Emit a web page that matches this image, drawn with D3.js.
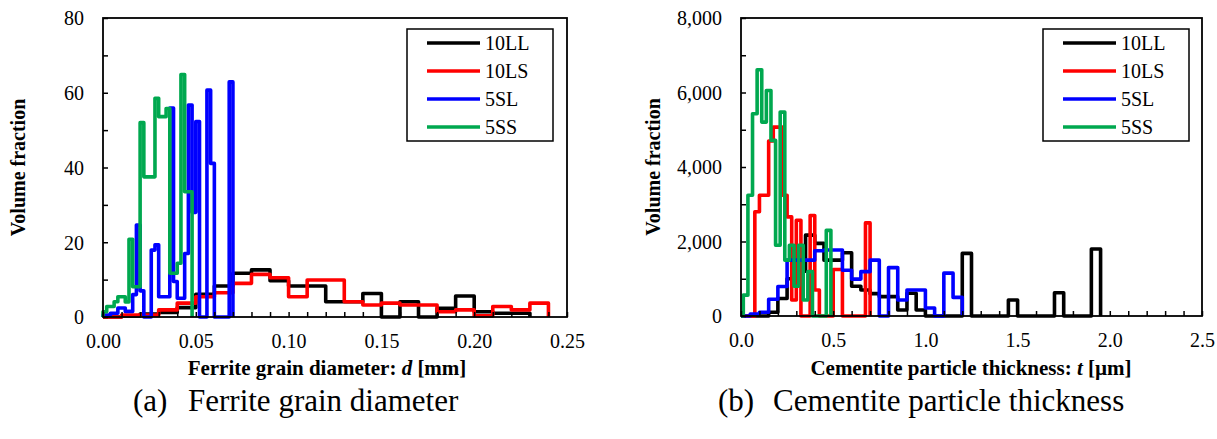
<!DOCTYPE html>
<html>
<head>
<meta charset="utf-8">
<script src="https://cdn.jsdelivr.net/npm/d3@7"></script>
<style>
  body { margin: 0; background: #fff; }
  svg, svg text { font-family: "Liberation Serif", "Times New Roman", Times, serif !important; }
</style>
</head>
<body>
<svg id="fig" width="1217" height="439"></svg>
<script>
// Series shared by both panels
const seriesNames  = ["10LL", "10LS", "5SL", "5SS"];
const seriesColors = ["#000000", "#ff0000", "#0000ff", "#00a84f"];

// (a) Ferrite grain diameter d [mm] — histogram heights per bin
const ferriteStart = [0, 0, 0, 0];
const ferriteWidth = [0.01, 0.01, 0.002, 0.002];
const ferrite10LL = [0, 0.3, 0.8, 1.2, 2.5, 6.1, 8.3, 11.7, 12.6, 9.7, 8.3, 8.3, 4.1, 4.1, 6.3, 0, 4.1, 0, 2.3, 5.6, 1.4, 1.0, 1.0];
const ferrite10LS = [0, 0.5, 0.5, 1.9, 3.7, 5.4, 6.5, 9.0, 11.4, 10.5, 5.4, 9.9, 9.9, 4.1, 3.2, 3.7, 3.2, 3.2, 1.4, 1.9, 0.3, 2.8, 1.9, 3.7];
const ferrite5SL  = [0.5, 0.5, 1, 1, 2.4, 2.4, 1.5, 1.5, 6, 24.6, 7, 0, 0, 17.9, 19.3, 5.4, 5.4, 5.4, 55.9, 9.5, 5, 5, 17, 56.7, 28, 52.3, 0, 0, 60.7, 41.1, 0, 0, 0, 0, 62.9];
const ferrite5SS  = [1.4, 2.8, 2.8, 4.1, 5.4, 5.4, 4.0, 20.8, 8.1, 8.1, 52.0, 37.5, 37.5, 37.5, 58.5, 53.6, 53.6, 55.8, 11.7, 11.7, 14.4, 64.9, 33.5, 33.5];

// (b) Cementite particle thickness t [µm] — histogram heights per bin
const cementiteStart = [0, 0, 0, 0.0125];
const cementiteWidth = [0.05, 0.025, 0.05, 0.025];
const cementite10LL = [0, 0, 0, 100, 470, 1000, 1200, 2170, 1950, 1500, 1500, 1700, 800, 700, 600, 520, 520, 160, 610, 160, 0, 0, 0, 0, 1680, 0, 0, 0, 0, 430, 0, 0, 0, 0, 626, 0, 0, 0, 1800];
const cementite10LS = [0, 0, 0, 2800, 3240, 3240, 4700, 5070, 5070, 3240, 2660, 430, 2570, 0, 0, 2700, 700, 0, 0, 0, 1250, 1250, 0, 0, 0, 0, 0, 2500];
const cementite5SL  = [0, 50, 100, 450, 790, 1500, 1500, 1500, 1750, 1770, 1770, 1230, 990, 1190, 1500, 0, 1300, 430, 700, 700, 215, 0, 1150, 500];
const cementite5SS  = [560, 3240, 5430, 6610, 5206, 6055, 4715, 1900, 5474, 1500, 1900, 800, 1900, 430, 1190, 0, 0, 0, 2300];

// Axis ticks
const ferriteXMajor = [0, 0.05, 0.10, 0.15, 0.20, 0.25];
const ferriteYMajor = [0, 20, 40, 60, 80];
const cementiteXMajor = [0, 0.5, 1.0, 1.5, 2.0, 2.5];
const cementiteYMajor = [0, 2000, 4000, 6000, 8000];

const FONT = "'Liberation Serif', 'Times New Roman', Times, serif";
const svg = d3.select("#fig").style("font-family", FONT);

function stepPoints(start, width, values) {
  const pts = [[0, 0], [start, 0]];
  values.forEach((v, i) => pts.push([start + i * width, v]));
  const end = start + values.length * width;
  pts.push([end, values[values.length - 1]]);
  pts.push([end, 0]);
  return pts;
}

function panel(cfg) {
  const g = svg.append("g");
  const x = d3.scaleLinear().domain(cfg.xDomain).range([cfg.left, cfg.right]);
  const y = d3.scaleLinear().domain(cfg.yDomain).range([cfg.bottom, cfg.top]);

  // histogram outlines
  const line = d3.line().x(d => x(d[0])).y(d => y(d[1])).curve(d3.curveStepAfter);
  cfg.series.forEach((vals, i) => {
    g.append("path")
      .attr("d", line(stepPoints(cfg.starts[i], cfg.widths[i], vals)))
      .attr("fill", "none")
      .attr("stroke", seriesColors[i])
      .attr("stroke-width", 3.6)
      .attr("stroke-linejoin", "round")
      .attr("stroke-linecap", "butt");
  });

  // bottom axis with inward minor ticks
  const xMinor = d3.range(0, cfg.xTickCount + 1).map(i => cfg.xDomain[0] + i * cfg.xMinorStep);
  const xAxis = d3.axisBottom(x).tickValues(xMinor).tickSize(-5).tickSizeOuter(0)
    .tickFormat(v => cfg.xMajor.some(m => Math.abs(m - v) < 1e-9) ? cfg.xFmt(v) : "");
  const gx = g.append("g").attr("transform", `translate(0,${cfg.bottom})`).call(xAxis);
  gx.selectAll("text").attr("y", 0).attr("dy", 0).attr("transform", "translate(0,31)");

  const yMinor = d3.range(0, cfg.yTickCount + 1).map(i => cfg.yDomain[0] + i * cfg.yMinorStep);
  const yAxis = d3.axisLeft(y).tickValues(yMinor).tickSize(-5).tickSizeOuter(0)
    .tickFormat(v => cfg.yMajor.includes(v) ? cfg.yFmt(v) : "");
  const gy = g.append("g").attr("transform", `translate(${cfg.left},0)`).call(yAxis);
  gy.selectAll("text").attr("x", -19).attr("dy", "0.34em");

  [gx, gy].forEach(a => {
    a.attr("font-family", null).attr("font-size", null);
    a.select(".domain").remove();
    a.selectAll("line").attr("stroke", "#000").attr("stroke-width", 1.5);
    a.selectAll("text").attr("fill", "#000")
      .style("font-family", FONT).style("font-size", "20px");
  });

  // plot frame
  g.append("rect")
    .attr("x", cfg.left).attr("y", cfg.top)
    .attr("width", cfg.right - cfg.left).attr("height", cfg.bottom - cfg.top)
    .attr("fill", "none").attr("stroke", "#000").attr("stroke-width", 1.8);

  // axis titles
  const xt = g.append("text")
    .attr("x", cfg.xTitleX).attr("y", 375)
    .attr("text-anchor", "middle")
    .style("font-family", FONT).style("font-size", "21px").style("font-weight", "bold");
  xt.append("tspan").text(cfg.xTitle[0]);
  xt.append("tspan").style("font-style", "italic").text(cfg.xTitle[1]);
  xt.append("tspan").text(cfg.xTitle[2]);

  g.append("text")
    .attr("transform", `translate(${cfg.yTitleX},${(cfg.top + cfg.bottom) / 2}) rotate(-90)`)
    .attr("text-anchor", "middle").attr("dy", "0.35em")
    .style("font-family", FONT).style("font-size", "20px").style("font-weight", "bold")
    .text("Volume fraction");

  // legend
  const lg = g.append("g").attr("transform", `translate(${cfg.legendX},29)`);
  lg.append("rect").attr("width", 146).attr("height", 112)
    .attr("fill", "#fff").attr("stroke", "#000").attr("stroke-width", 1.5);
  seriesNames.forEach((name, i) => {
    const yy = 14 + i * 28;
    lg.append("line").attr("x1", 20).attr("x2", 73).attr("y1", yy).attr("y2", yy)
      .attr("stroke", seriesColors[i]).attr("stroke-width", 3.6);
    lg.append("text").attr("x", 78).attr("y", yy).attr("dy", "0.35em")
      .style("font-family", FONT).style("font-size", "20px").text(name);
  });

  // caption
  const cap = g.append("text").attr("y", 411)
    .style("font-family", FONT).style("font-size", "31px");
  cap.append("tspan").attr("x", cfg.captionX).text(cfg.caption[0]);
  cap.append("tspan").attr("x", cfg.captionX + 55).text(cfg.caption[1]);
}

panel({
  left: 103, right: 567, top: 18, bottom: 317,
  xDomain: [0, 0.25], yDomain: [0, 80],
  xMinorStep: 0.01, xTickCount: 25, yMinorStep: 10, yTickCount: 8,
  xMajor: ferriteXMajor, yMajor: ferriteYMajor,
  xFmt: d3.format(".2f"), yFmt: d3.format("d"),
  series: [ferrite10LL, ferrite10LS, ferrite5SL, ferrite5SS],
  starts: ferriteStart, widths: ferriteWidth,
  xTitle: ["Ferrite grain diameter: ", "d", " [mm]"], xTitleX: 327,
  yTitleX: 18, legendX: 407,
  caption: ["(a)", "Ferrite grain diameter"], captionX: 133
});

panel({
  left: 741, right: 1202, top: 18, bottom: 316,
  xDomain: [0, 2.5], yDomain: [0, 8000],
  xMinorStep: 0.1, xTickCount: 25, yMinorStep: 1000, yTickCount: 8,
  xMajor: cementiteXMajor, yMajor: cementiteYMajor,
  xFmt: d3.format(".1f"), yFmt: d3.format(","),
  series: [cementite10LL, cementite10LS, cementite5SL, cementite5SS],
  starts: cementiteStart, widths: cementiteWidth,
  xTitle: ["Cementite particle thickness: ", "t", " [µm]"], xTitleX: 971,
  yTitleX: 653, legendX: 1043,
  caption: ["(b)", "Cementite particle thickness"], captionX: 718
});
</script>
</body>
</html>
